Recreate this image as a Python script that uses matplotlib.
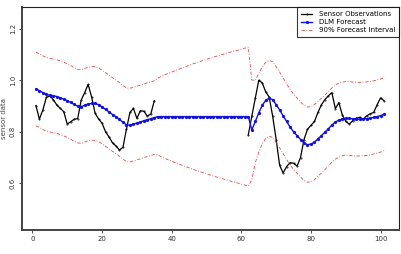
import matplotlib
matplotlib.use("Agg")
import matplotlib.pyplot as plt
import numpy as np

# time index 1..101
t = np.arange(1, 102)

# sensor observations (missing between 36 and 61)
obs_a = [0.902, 0.849, 0.885, 0.934, 0.939, 0.925, 0.904, 0.891, 0.878, 0.830,
         0.839, 0.849, 0.851, 0.923, 0.952, 0.984, 0.935, 0.872, 0.850, 0.833,
         0.800, 0.780, 0.757, 0.745, 0.729, 0.740, 0.810, 0.875, 0.891, 0.852,
         0.882, 0.880, 0.861, 0.869, 0.921]
obs_b = [0.788, 0.860, 0.930, 1.000, 0.990, 0.955, 0.935, 0.860, 0.770, 0.670,
         0.640, 0.665, 0.680, 0.678, 0.667, 0.700, 0.770, 0.810, 0.825, 0.840,
         0.875, 0.905, 0.925, 0.940, 0.952, 0.890, 0.913, 0.866, 0.840, 0.830,
         0.843, 0.853, 0.856, 0.849, 0.862, 0.870, 0.875, 0.905, 0.932, 0.920]
obs = obs_a + [np.nan] * 26 + obs_b

forecast = [0.966, 0.960, 0.952, 0.945, 0.942, 0.940, 0.937, 0.932, 0.927, 0.921,
            0.914, 0.906, 0.900, 0.898, 0.903, 0.908, 0.910, 0.910, 0.905, 0.896,
            0.887, 0.877, 0.867, 0.858, 0.848, 0.837, 0.827, 0.826, 0.830, 0.834,
            0.838, 0.843, 0.847, 0.851, 0.855,
            0.859, 0.859, 0.859, 0.859, 0.859, 0.859, 0.859, 0.859, 0.859, 0.859,
            0.859, 0.859, 0.859, 0.859, 0.859, 0.859, 0.859, 0.859, 0.859, 0.859,
            0.859, 0.859, 0.859, 0.859, 0.859, 0.859, 0.859,
            0.807, 0.840, 0.873, 0.903, 0.922, 0.930, 0.925, 0.905, 0.885, 0.862,
            0.840, 0.818, 0.800, 0.785, 0.770, 0.757, 0.750, 0.752, 0.760, 0.772,
            0.785, 0.798, 0.812, 0.826, 0.838, 0.845, 0.850, 0.852, 0.852, 0.850,
            0.849, 0.849, 0.850, 0.851, 0.853, 0.856, 0.859, 0.863, 0.868]

upper = [1.109, 1.103, 1.095, 1.088, 1.085, 1.083, 1.080, 1.075, 1.070, 1.064,
         1.057, 1.049, 1.043, 1.041, 1.046, 1.051, 1.053, 1.053, 1.048, 1.039,
         1.030, 1.020, 1.010, 1.001, 0.991, 0.980, 0.970, 0.969, 0.973, 0.977,
         0.981, 0.986, 0.990, 0.994, 0.998,
         1.008, 1.015, 1.021, 1.027, 1.032, 1.038, 1.043, 1.048, 1.053, 1.058,
         1.063, 1.068, 1.072, 1.077, 1.081, 1.086, 1.090, 1.094, 1.098, 1.102,
         1.106, 1.110, 1.114, 1.117, 1.121, 1.125, 1.128,
         1.001, 1.000, 1.026, 1.053, 1.070, 1.077, 1.072, 1.052, 1.032, 1.009,
         0.987, 0.965, 0.946, 0.931, 0.916, 0.903, 0.896, 0.898, 0.906, 0.917,
         0.930, 0.943, 0.956, 0.970, 0.982, 0.989, 0.993, 0.995, 0.995, 0.993,
         0.992, 0.992, 0.993, 0.994, 0.996, 0.998, 1.001, 1.005, 1.009]

lower = [0.823, 0.817, 0.809, 0.802, 0.799, 0.797, 0.794, 0.789, 0.784, 0.778,
         0.771, 0.763, 0.757, 0.755, 0.760, 0.765, 0.767, 0.767, 0.762, 0.753,
         0.744, 0.734, 0.724, 0.715, 0.705, 0.694, 0.684, 0.683, 0.687, 0.691,
         0.695, 0.700, 0.704, 0.708, 0.712,
         0.710, 0.703, 0.697, 0.691, 0.686, 0.680, 0.675, 0.670, 0.665, 0.660,
         0.655, 0.650, 0.646, 0.641, 0.637, 0.632, 0.628, 0.624, 0.620, 0.616,
         0.612, 0.608, 0.605, 0.601, 0.597, 0.593, 0.590,
         0.613, 0.680, 0.720, 0.753, 0.774, 0.783, 0.778, 0.758, 0.738, 0.715,
         0.693, 0.671, 0.654, 0.639, 0.624, 0.611, 0.604, 0.606, 0.614, 0.627,
         0.640, 0.653, 0.668, 0.682, 0.694, 0.701, 0.707, 0.709, 0.709, 0.707,
         0.706, 0.706, 0.707, 0.708, 0.710, 0.714, 0.717, 0.721, 0.727]

fig = plt.figure(figsize=(4.02, 2.54), dpi=100)
ax = fig.add_axes([0.0547, 0.0945, 0.938, 0.878])

ax.plot(t, obs, color='black', lw=0.9, marker='.', markersize=0.8,
        label='Sensor Observations')
ax.plot(t, forecast, color='#1010e0', lw=1.0, marker='o', markersize=1.3,
        label='DLM Forecast')
ax.plot(t, upper, color='#e04848', lw=0.6, ls=(0, (4, 2, 1, 2)),
        label='90% Forecast Interval')
ax.plot(t, lower, color='#e04848', lw=0.6, ls=(0, (4, 2, 1, 2)))

ax.set_xlim(-3, 105.3)
ax.set_ylim(0.4186, 1.2847)
ax.set_xticks([0, 20, 40, 60, 80, 100])
ax.set_yticks([0.6, 0.8, 1.0, 1.2])
ax.set_yticklabels(['0.6', '0.8', '1.0', '1.2'], rotation=90, va='center')
ax.tick_params(labelsize=5, length=2.5, width=0.6, pad=2, colors='#333333')
ax.set_ylabel('sensor data', fontsize=5, color='#444444', labelpad=2)

for side in ['left', 'bottom']:
    ax.spines[side].set_linewidth(1.4)
    ax.spines[side].set_color('#444444')
for side in ['top', 'right']:
    ax.spines[side].set_linewidth(0.8)
    ax.spines[side].set_color('#222222')

leg = ax.legend(loc='upper right', fontsize=5, frameon=True, fancybox=False,
                borderaxespad=0, handlelength=1.6, borderpad=0.6,
                labelspacing=0.3, handletextpad=0.9)
leg.get_frame().set_edgecolor('black')
leg.get_frame().set_linewidth(0.8)

fig.savefig('out.png', dpi=100)
